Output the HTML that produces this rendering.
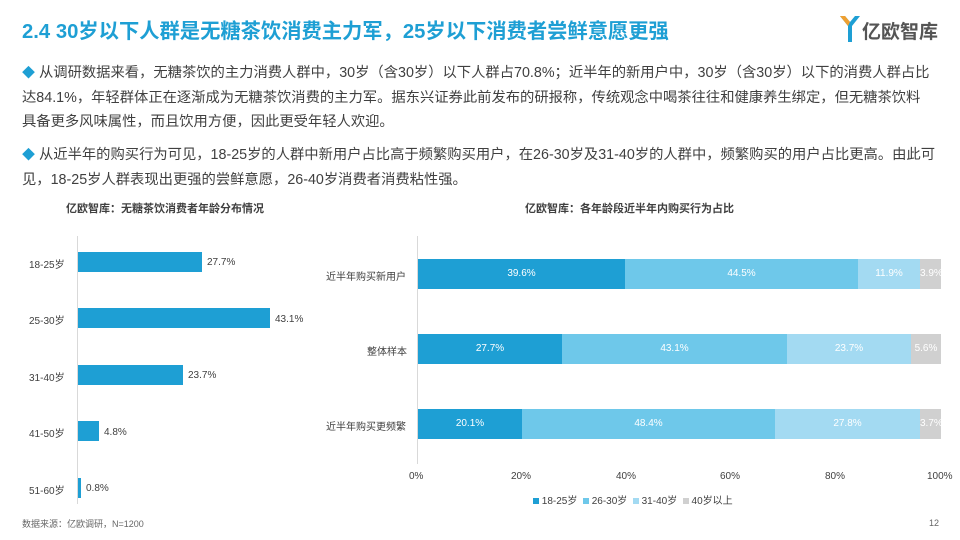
<!DOCTYPE html>
<html><head><meta charset="utf-8"><style>
body{margin:0;width:960px;height:540px;background:#fff;position:relative;overflow:hidden;font-family:"Liberation Sans","Noto Sans CJK SC",sans-serif;color:#404040}
.a{position:absolute;white-space:nowrap}
.t{left:22px;top:14px;font-size:20.3px;font-weight:bold;color:#1e9fd4}
.p{left:22px;font-size:14.3px;line-height:24.5px;color:#404040}
.d{color:#1e9fd4;font-size:13px}
.sm{font-size:10px;color:#404040}
.bar{position:absolute;height:30px}
.bl{position:absolute;top:0;height:30px;line-height:30px;text-align:center;color:#fff;font-size:10px}
</style></head><body>
<div class="a t">2.4 30岁以下人群是无糖茶饮消费主力军，25岁以下消费者尝鲜意愿更强</div>
<div class="a" style="left:838px;top:14px;width:12px;height:28px">
<svg width="24" height="30"><path d="M2 2 L10 12 L10 28 L14 28 L14 12 L22 2 L17 2 L12 8 L7 2Z" fill="#1e9fd4"/><path d="M2 2 L7 2 L12 8 L10 12Z" fill="#f0a030"/></svg></div>
<div class="a" style="left:862px;top:17px;font-size:19px;font-weight:bold;color:#555">亿欧智库</div>
<div class="a p" style="top:61px"><span class="d">◆</span> 从调研数据来看，无糖茶饮的主力消费人群中，30岁（含30岁）以下人群占70.8%；近半年的新用户中，30岁（含30岁）以下的消费人群占比<br>达84.1%，年轻群体正在逐渐成为无糖茶饮消费的主力军。据东兴证券此前发布的研报称，传统观念中喝茶往往和健康养生绑定，但无糖茶饮料<br>具备更多风味属性，而且饮用方便，因此更受年轻人欢迎。</div>
<div class="a p" style="top:143px"><span class="d">◆</span> 从近半年的购买行为可见，18-25岁的人群中新用户占比高于频繁购买用户，在26-30岁及31-40岁的人群中，频繁购买的用户占比更高。由此可<br>见，18-25岁人群表现出更强的尝鲜意愿，26-40岁消费者消费粘性强。</div>
<div class="a" style="left:66px;top:200px;font-size:11px;font-weight:bold;color:#404040">亿欧智库：无糖茶饮消费者年龄分布情况</div>
<div class="a" style="left:525px;top:200px;font-size:11px;font-weight:bold;color:#404040">亿欧智库：各年龄段近半年内购买行为占比</div>
<!-- left chart -->
<div class="a" style="left:77px;top:236px;width:1px;height:268px;background:#d9d9d9"></div>
<div class="a sm" style="left:29px;top:256px">18-25岁</div>
<div class="a sm" style="left:29px;top:312px">25-30岁</div>
<div class="a sm" style="left:29px;top:369px">31-40岁</div>
<div class="a sm" style="left:29px;top:425px">41-50岁</div>
<div class="a sm" style="left:29px;top:482px">51-60岁</div>
<div class="a" style="left:78px;top:252px;width:124px;height:20px;background:#1e9fd4"></div><div class="a sm" style="left:207px;top:257px">27.7%</div>
<div class="a" style="left:78px;top:308px;width:192px;height:20px;background:#1e9fd4"></div><div class="a sm" style="left:275px;top:314px">43.1%</div>
<div class="a" style="left:78px;top:365px;width:105px;height:20px;background:#1e9fd4"></div><div class="a sm" style="left:188px;top:370px">23.7%</div>
<div class="a" style="left:78px;top:421px;width:21px;height:20px;background:#1e9fd4"></div><div class="a sm" style="left:104px;top:427px">4.8%</div>
<div class="a" style="left:78px;top:478px;width:3px;height:20px;background:#1e9fd4"></div><div class="a sm" style="left:86px;top:483px">0.8%</div>
<!-- right chart -->
<div class="a" style="left:417px;top:236px;width:1px;height:228px;background:#d9d9d9"></div>
<div class="a sm" style="left:326px;top:268px">近半年购买新用户</div>
<div class="a sm" style="left:367px;top:343px">整体样本</div>
<div class="a sm" style="left:326px;top:418px">近半年购买更频繁</div>
<div class="bar" style="left:418px;top:259px;width:523px">
<div class="bl" style="left:0;width:207px;background:#1e9fd4">39.6%</div>
<div class="bl" style="left:207px;width:233px;background:#6ec8ea">44.5%</div>
<div class="bl" style="left:440px;width:62px;background:#a3daf2">11.9%</div>
<div class="bl" style="left:502px;width:21px;background:#d0d0d0">3.9%</div></div>
<div class="bar" style="left:418px;top:334px;width:523px">
<div class="bl" style="left:0;width:144px;background:#1e9fd4">27.7%</div>
<div class="bl" style="left:144px;width:225px;background:#6ec8ea">43.1%</div>
<div class="bl" style="left:369px;width:124px;background:#a3daf2">23.7%</div>
<div class="bl" style="left:493px;width:30px;background:#d0d0d0">5.6%</div></div>
<div class="bar" style="left:418px;top:409px;width:523px">
<div class="bl" style="left:0;width:104px;background:#1e9fd4">20.1%</div>
<div class="bl" style="left:104px;width:253px;background:#6ec8ea">48.4%</div>
<div class="bl" style="left:357px;width:145px;background:#a3daf2">27.8%</div>
<div class="bl" style="left:502px;width:21px;background:#d0d0d0">3.7%</div></div>
<div class="a sm" style="left:409px;top:471px">0%</div>
<div class="a sm" style="left:511px;top:471px">20%</div>
<div class="a sm" style="left:616px;top:471px">40%</div>
<div class="a sm" style="left:720px;top:471px">60%</div>
<div class="a sm" style="left:825px;top:471px">80%</div>
<div class="a sm" style="left:927px;top:471px">100%</div>
<div class="a sm" style="left:533px;top:492px"><span style="display:inline-block;width:6px;height:6px;background:#1e9fd4"></span> 18-25岁 &nbsp;<span style="display:inline-block;width:6px;height:6px;background:#6ec8ea"></span> 26-30岁 &nbsp;<span style="display:inline-block;width:6px;height:6px;background:#a3daf2"></span> 31-40岁 &nbsp;<span style="display:inline-block;width:6px;height:6px;background:#d0d0d0"></span> 40岁以上</div>
<div class="a" style="left:22px;top:517px;font-size:9px;color:#666">数据来源：亿欧调研，N=1200</div>
<div class="a" style="left:929px;top:518px;font-size:9px;color:#666">12</div>
</body></html>
